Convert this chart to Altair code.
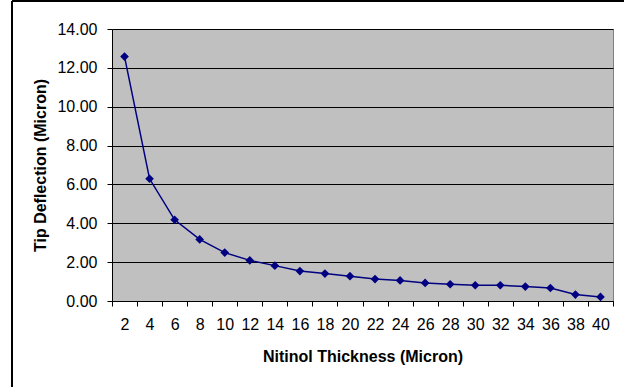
import altair as alt
import pandas as pd

thickness = [2, 4, 6, 8, 10, 12, 14, 16, 18, 20, 22, 24, 26, 28, 30, 32, 34, 36, 38, 40]
deflection = [12.58, 6.29, 4.18, 3.17, 2.49, 2.09, 1.82, 1.54, 1.41, 1.28,
              1.13, 1.06, 0.93, 0.86, 0.81, 0.81, 0.74, 0.67, 0.33, 0.21]

df = pd.DataFrame({"t": thickness, "d": deflection})

FONT = "Liberation Sans"

x_enc = alt.X(
    "t:O",
    sort=thickness,
    scale=alt.Scale(paddingInner=0, paddingOuter=0),
    axis=alt.Axis(
        title="Nitinol Thickness (Micron)",
        labelAngle=0,
        tickBand="extent",
        tickSize=5,
        tickColor="black",
        domainColor="black",
        labelPadding=10,
        labelFontSize=16,
        labelFont=FONT,
        labelColor="black",
        titleFont=FONT,
        titleFontSize=16,
        titleFontWeight="bold",
        titleColor="black",
        titlePadding=16,
        grid=False,
    ),
)
y_enc = alt.Y(
    "d:Q",
    scale=alt.Scale(domain=[0, 14], nice=False),
    axis=alt.Axis(
        title="Tip Deflection (Micron)",
        values=[0, 2, 4, 6, 8, 10, 12, 14],
        format=".2f",
        tickSize=5,
        tickColor="black",
        domainColor="black",
        labelPadding=10,
        labelFontSize=16,
        labelFont=FONT,
        labelColor="black",
        titleFont=FONT,
        titleFontSize=16,
        titleFontWeight="bold",
        titleColor="black",
        titlePadding=8,
        grid=True,
        gridColor="black",
        gridOpacity=1,
        gridWidth=1,
    ),
)

base = alt.Chart(df)
line = base.mark_line(color="#000080", strokeWidth=1.5).encode(x=x_enc, y=y_enc)
points = base.mark_point(shape="diamond", filled=True, color="#000080", size=75, opacity=1).encode(x=x_enc, y=y_enc)

frame_left = alt.Chart(df).mark_rule(color="black", strokeWidth=2).encode(
    x=alt.value(-100), y=alt.value(-28), y2=alt.value(360)
)
frame_top = alt.Chart(df).mark_rule(color="black", strokeWidth=2).encode(
    x=alt.value(-100), x2=alt.value(520), y=alt.value(-28)
)

chart = alt.layer(line, points, frame_left, frame_top).properties(
    width=501,
    height=272,
    padding={"left": 112, "top": 29, "right": 11, "bottom": 86},
    autosize=alt.AutoSizeParams(type="none"),
    background="white",
).configure_view(
    fill="#C0C0C0",
    stroke="#808080",
    strokeWidth=1,
)

chart.save("out.html", embed_options={"renderer": "svg", "actions": False})
